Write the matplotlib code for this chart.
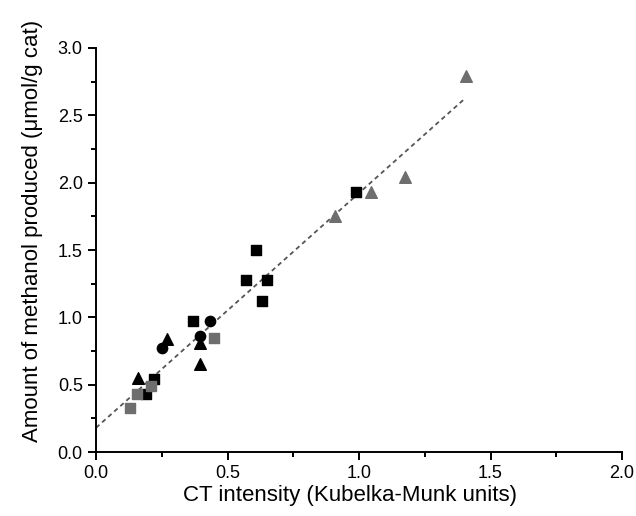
import numpy as np
import matplotlib
matplotlib.use("Agg")
import matplotlib.pyplot as plt
from matplotlib.ticker import MultipleLocator, FormatStrFormatter

plt.rcParams["font.family"] = ["Liberation Sans", "DejaVu Sans"]

# data
sq_black_x = [0.19, 0.22, 0.37, 0.57, 0.61, 0.63, 0.65, 0.99]
sq_black_y = [0.43, 0.54, 0.97, 1.28, 1.50, 1.12, 1.28, 1.93]

sq_gray_x = [0.13, 0.155, 0.21, 0.45]
sq_gray_y = [0.33, 0.43, 0.49, 0.85]

circ_black_x = [0.25, 0.395, 0.435]
circ_black_y = [0.77, 0.86, 0.97]

tri_black_x = [0.16, 0.27, 0.395, 0.395]
tri_black_y = [0.55, 0.84, 0.65, 0.81]

tri_gray_x = [0.91, 1.045, 1.175, 1.405]
tri_gray_y = [1.75, 1.93, 2.04, 2.79]

fit_x = [0.0, 1.40]
fit_y = [0.18, 2.62]

gray = "#6e6e6e"

fig = plt.figure(figsize=(6.36, 5.16), dpi=100)
ax = fig.add_axes([0.151, 0.124, 0.827, 0.783])

ax.plot(fit_x, fit_y, linestyle=(0, (2.5, 2)), color="#555555", linewidth=1.3, zorder=1)

ax.scatter(sq_black_x, sq_black_y, marker="s", s=55, color="black", zorder=3)
ax.scatter(sq_gray_x, sq_gray_y, marker="s", s=55, color=gray, zorder=3)
ax.scatter(circ_black_x, circ_black_y, marker="o", s=55, color="black", zorder=3)
ax.scatter(tri_black_x, tri_black_y, marker="^", s=70, color="black", zorder=3)
ax.scatter(tri_gray_x, tri_gray_y, marker="^", s=70, color=gray, zorder=3)

ax.set_xlim(0, 2.0)
ax.set_ylim(0, 3.0)
ax.xaxis.set_major_locator(MultipleLocator(0.5))
ax.xaxis.set_minor_locator(MultipleLocator(0.25))
ax.yaxis.set_major_locator(MultipleLocator(0.5))
ax.yaxis.set_minor_locator(MultipleLocator(0.25))
ax.xaxis.set_major_formatter(FormatStrFormatter("%.1f"))
ax.yaxis.set_major_formatter(FormatStrFormatter("%.1f"))

ax.spines["top"].set_visible(False)
ax.spines["right"].set_visible(False)
ax.spines["left"].set_linewidth(1.4)
ax.spines["bottom"].set_linewidth(1.4)
ax.tick_params(which="major", direction="out", length=6, width=1.4, labelsize=13, color="black")
ax.tick_params(which="minor", direction="out", length=3.5, width=1.4)

ax.set_xlabel("CT intensity (Kubelka-Munk units)", fontsize=16)
ax.set_ylabel("Amount of methanol produced (\u03bcmol/g cat)", fontsize=16)
ax.xaxis.set_label_coords(0.483, -0.082)
ax.yaxis.set_label_coords(-0.10, 0.547)

fig.savefig("out.png", dpi=100)
